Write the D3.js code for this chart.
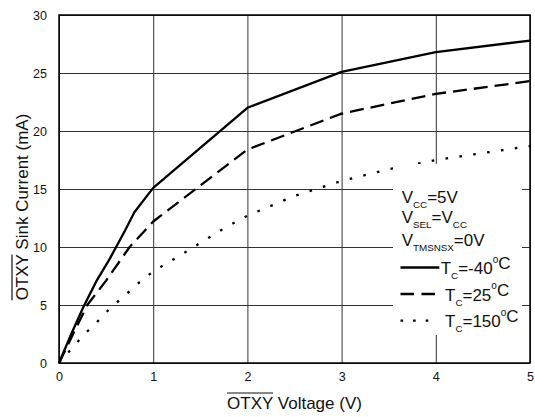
<!DOCTYPE html>
<html>
<head>
<meta charset="utf-8">
<script src="https://cdn.jsdelivr.net/npm/d3@7"></script>
<style>
  body { margin: 0; background: #fff; }
  svg text { font-family: "Liberation Sans", Arial, Helvetica, sans-serif; fill: #111; }
</style>
</head>
<body>
<div id="chart"></div>
<script>
// values
const xTicks = [0, 1, 2, 3, 4, 5];
const yTicks = [0, 5, 10, 15, 20, 25, 30];

// T = -40 C
const vCold = [0, 0.13, 0.26, 0.4, 0.54, 0.7, 0.8, 1, 2, 3, 4, 5];
const iCold = [0, 2.5, 4.85, 7.1, 9.0, 11.4, 13, 15.1, 22, 25.1, 26.8, 27.8];
// T = 25 C
const vRoom = [0, 0.15, 0.3, 0.5, 0.75, 1, 1.5, 2, 3, 4, 5];
const iRoom = [0, 2.5, 5, 7.1, 10, 12.2, 15.3, 18.4, 21.5, 23.2, 24.3];
// T = 150 C
const vHot = [0, 0.13, 0.26, 0.4, 0.54, 0.69, 0.83, 1, 1.25, 1.5, 1.75, 2, 2.5, 3, 3.5, 4, 5];
const iHot = [0, 1.2, 2.4, 3.5, 4.7, 5.75, 6.8, 7.9, 9.1, 10.35, 11.6, 12.7, 14.4, 15.7, 16.7, 17.5, 18.7];

const series = [
  { v: vCold, i: iCold, dash: null, label: "=-40" },
  { v: vRoom, i: iRoom, dash: "14,7", label: "=25" },
  { v: vHot, i: iHot, dash: "2.6,11.4", label: "=150" }
];

const margin = {top: 15, right: 5, bottom: 54, left: 59};
const width = 535 - margin.left - margin.right,
      height = 417 - margin.top - margin.bottom;

const svg = d3.select("#chart")
  .append("svg")
    .attr("width", 535)
    .attr("height", 417)
  .append("g")
    .attr("transform", "translate(" + margin.left + "," + margin.top + ")");

const x = d3.scaleLinear().domain([0, 5]).range([0, width]);
const y = d3.scaleLinear().domain([0, 30]).range([height, 0]);

// grid + tick labels
const xAxis = svg.append("g")
  .attr("transform", "translate(0," + height + ")")
  .call(d3.axisBottom(x).tickValues(xTicks).tickSize(-height).tickPadding(9).tickFormat(d3.format("d")));
const yAxis = svg.append("g")
  .call(d3.axisLeft(y).tickValues(yTicks).tickSize(-width).tickPadding(12).tickFormat(d3.format("d")));

[xAxis, yAxis].forEach(a => {
  a.select(".domain").remove();
  a.selectAll(".tick line").attr("stroke", "#333").attr("stroke-width", 1);
  a.selectAll(".tick text").style("font-size", "12.5px").attr("fill", "#111");
});

// plot frame
svg.append("rect")
  .attr("width", width).attr("height", height)
  .attr("fill", "none").attr("stroke", "#000").attr("stroke-width", 1.5);

// curves
const line = d3.line()
  .x(d => x(d[0]))
  .y(d => y(d[1]));

series.forEach(s => {
  svg.append("path")
    .datum(s.v.map((v, k) => [v, s.i[k]]))
    .attr("d", line)
    .attr("fill", "none")
    .attr("stroke", "#000")
    .attr("stroke-width", 2.3)
    .attr("stroke-linejoin", "round")
    .attr("stroke-dasharray", s.dash);
});

// axis titles with overline on OTXY
function overlined(g, pre, rest) {
  const t = g.append("text").style("font-size", "17px").attr("text-anchor", "middle");
  t.append("tspan").text(pre);
  t.append("tspan").text(rest);
  const full = t.node().getComputedTextLength();
  const w = t.node().getSubStringLength(0, pre.length);
  g.append("line")
    .attr("x1", -full / 2).attr("x2", -full / 2 + w)
    .attr("y1", -15.5).attr("y2", -15.5)
    .attr("stroke", "#111").attr("stroke-width", 1.2);
}

const xt = svg.append("g").attr("transform", "translate(" + (width / 2) + "," + (height + 45.5) + ")");
overlined(xt, "OTXY", " Voltage (V)");

const yt = svg.append("g").attr("transform", "translate(" + (27.5 - margin.left) + "," + (207 - margin.top) + ") rotate(-90)");
overlined(yt, "OTXY", " Sink Current (mA)");

// legend box sits on top of grid
const lg = svg.append("g").attr("transform", "translate(" + (393 - margin.left) + "," + (164 - margin.top) + ")");
lg.append("rect").attr("width", 129).attr("height", 171).attr("fill", "#fff");

function subText(px, py, parts) {
  const t = lg.append("text").attr("x", px).attr("y", py).style("font-size", "17px");
  parts.forEach(p => {
    const ts = t.append("tspan").text(p.s);
    if (p.sub) ts.style("font-size", "9.8px").attr("dy", 5);
    if (p.up) ts.style("font-size", "17px").attr("dy", -5);
    if (p.sup) ts.style("font-size", "10px").attr("dy", -11.5);
    if (p.down) ts.style("font-size", "17px").attr("dy", 6.5);
  });
}

subText(8.7, 38.7, [{s: "V"}, {s: "CC", sub: 1}, {s: "=5V", up: 1}]);
subText(8.7, 59, [{s: "V"}, {s: "SEL", sub: 1}, {s: "=V", up: 1}, {s: "CC", sub: 1}]);
subText(8.7, 82, [{s: "V"}, {s: "TMSNSX", sub: 1}, {s: "=0V", up: 1}]);

const rowY = [103.5, 130, 156.7];
const lineEnd = [46.3, 42, 38];
series.forEach((s, k) => {
  lg.append("line")
    .attr("x1", 7.5).attr("x2", lineEnd[k])
    .attr("y1", rowY[k]).attr("y2", rowY[k])
    .attr("stroke", "#000").attr("stroke-width", 2.3)
    .attr("stroke-dasharray", k === 1 ? "13.5,7.5" : (k === 2 ? "2.6,10" : null));
  subText(k === 0 ? 47.7 : 52, rowY[k] + 6.5,
    [{s: "T"}, {s: "C", sub: 1}, {s: s.label, up: 1}, {s: "o", sup: 1}, {s: "C", down: 1}]);
});
</script>
</body>
</html>
